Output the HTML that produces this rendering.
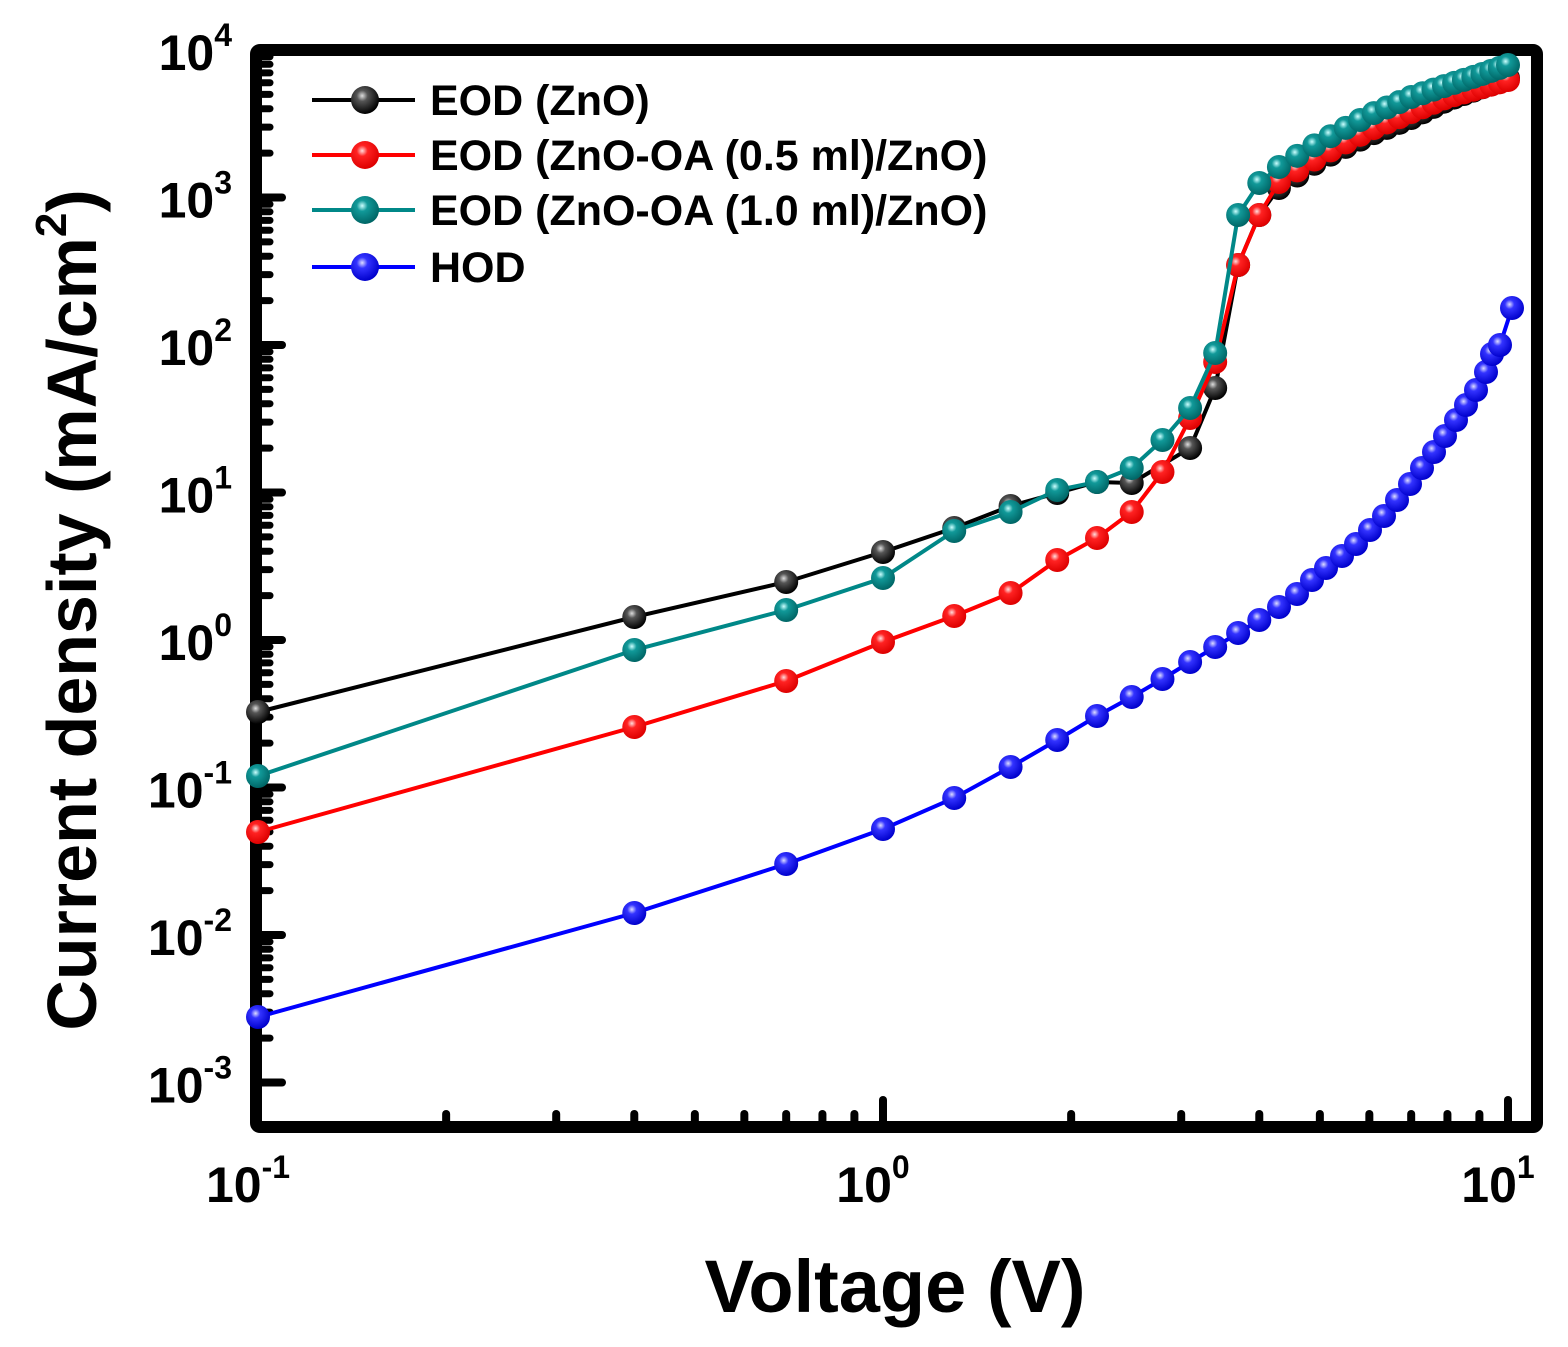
<!DOCTYPE html>
<html><head><meta charset="utf-8"><style>
html,body{margin:0;padding:0;background:#fff;}
svg text{font-family:"Liberation Sans",Arial,sans-serif;font-weight:bold;}
</style></head><body>
<svg id="s" width="1568" height="1342" xmlns="http://www.w3.org/2000/svg">
<defs>
<radialGradient id="gk" cx="0.4" cy="0.35" r="0.65"><stop offset="0" stop-color="#ddd"/><stop offset="0.3" stop-color="#555"/><stop offset="1" stop-color="#000"/></radialGradient>
<radialGradient id="gr" cx="0.4" cy="0.35" r="0.65"><stop offset="0" stop-color="#fdd"/><stop offset="0.3" stop-color="#f22"/><stop offset="1" stop-color="#d00"/></radialGradient>
<radialGradient id="gt" cx="0.4" cy="0.35" r="0.65"><stop offset="0" stop-color="#cff"/><stop offset="0.3" stop-color="#199"/><stop offset="1" stop-color="#066"/></radialGradient>
<radialGradient id="gb" cx="0.4" cy="0.35" r="0.65"><stop offset="0" stop-color="#ddf"/><stop offset="0.3" stop-color="#33f"/><stop offset="1" stop-color="#00c"/></radialGradient>
</defs>
<g id="g"></g>
</svg>
<script>
const X=v=>258+625*Math.log10(v/0.1);
let h='';
for(let d=-3;d<=4;d++){const y=640-147.5*d;h+=`<line x1="256" x2="282" y1="${y}" y2="${y}" stroke="#000" stroke-width="8" stroke-linecap="round"/>`;
 if(d<4)for(let k=2;k<10;k++){const yy=y-147.5*Math.log10(k);h+=`<line x1="256" x2="270" y1="${yy}" y2="${yy}" stroke="#000" stroke-width="7" stroke-linecap="round"/>`;}
 h+=`<text x="232" y="${y+20}" font-size="50" text-anchor="end">10<tspan dy="-24" font-size="32">${d}</tspan></text>`;}
for(let d=-1;d<=1;d++){const x=258+625*(d+1);h+=`<line x1="${x}" x2="${x}" y1="1127" y2="1100" stroke="#000" stroke-width="8" stroke-linecap="round"/>`;
 h+=`<text x="${x-10}" y="1202" font-size="50" text-anchor="middle">10<tspan dy="-24" font-size="32">${d}</tspan></text>`;
 if(d<1)for(let k=2;k<10;k++){const xx=x+625*Math.log10(k);h+=`<line x1="${xx}" x2="${xx}" y1="1127" y2="1114" stroke="#000" stroke-width="8" stroke-linecap="round"/>`;}}
h+=`<rect x="256" y="50" width="1281" height="1077" fill="none" stroke="#000" stroke-width="12" rx="4"/>`;
const V=[0.1,0.4,0.7,1.0,1.3,1.6,1.9,2.2,2.5,2.8,3.1,3.4,3.7,4.0];
function tail(pts){
 const r=[];for(let v=4.3;v<=10.01;v+=0.3){let i=0;while(i<pts.length-2&&pts[i+1][0]<v)i++;const a=pts[i],b=pts[i+1];const t=(Math.log(v)-Math.log(a[0]))/(Math.log(b[0])-Math.log(a[0]));r.push([X(v),a[1]+(b[1]-a[1])*t]);}return r;}
function ser(ys,tl,col,g){let p=[];ys.forEach((y,i)=>{if(y!=null)p.push([X(V[i]),y]);});p=p.concat(tl);
 let s=`<polyline points="${p.map(q=>q.join(',')).join(' ')}" fill="none" stroke="${col}" stroke-width="4"/>`;
 p.forEach(q=>s+=`<circle cx="${q[0]}" cy="${q[1]}" r="12" fill="url(#${g})"/>`);return s;}
const bk=ser([712,617,582,552,528,506,493,482,483,null,448,388,265,215],tail([[4,215],[4.3,188],[5,160],[6,135],[7,118],[8,100],[10,78]]),'#000','gk');
const rd=ser([832,727,681,642,616,593,560,538,512,472,418,362,265,215],tail([[4,215],[4.3,182],[5,156],[6,130],[7,112],[8,97],[10,80]]),'#f00','gr');
const tl=ser([776,650,610,578,531,512,490,482,468,440,408,353,215,183],tail([[4,183],[4.3,167],[5,142],[6,115],[7,97],[8,85],[9,75],[10,65]]),'#088','gt');
let bp=[[1297,594],[1312,580],[1326,568],[1342,556],[1356,544],[1370,530],[1384,516],[1397,500],[1410,484],[1422,468],[1434,452],[1445,436],[1456,420],[1466,405],[1476,390],[1486,372],[1492,354],[1500,345],[1512,308]];
const bl=ser([1017,913,864,829,798,767,740,716,697,679,662,647,633,620],[[1279,607]].concat(bp),'#00f','gb');
h+=bk+rd+tl+bl;
[['#000','gk','EOD (ZnO)',100],['#f00','gr','EOD (ZnO-OA (0.5 ml)/ZnO)',155],['#088','gt','EOD (ZnO-OA (1.0 ml)/ZnO)',210],['#00f','gb','HOD',267]].forEach(l=>{
 h+=`<line x1="312" x2="415" y1="${l[3]}" y2="${l[3]}" stroke="${l[0]}" stroke-width="4"/><circle cx="365" cy="${l[3]}" r="14" fill="url(#${l[1]})"/><text x="430" y="${l[3]+15}" font-size="43">${l[2]}</text>`;});
h+=`<text x="895" y="1312" font-size="74" text-anchor="middle">Voltage (V)</text>`;
h+=`<text transform="translate(96,610) rotate(-90)" font-size="70" text-anchor="middle">Current density (mA/cm<tspan dy="-30" font-size="44">2</tspan><tspan dy="30">)</tspan></text>`;
document.getElementById('g').innerHTML=h;
</script>
</body></html>
